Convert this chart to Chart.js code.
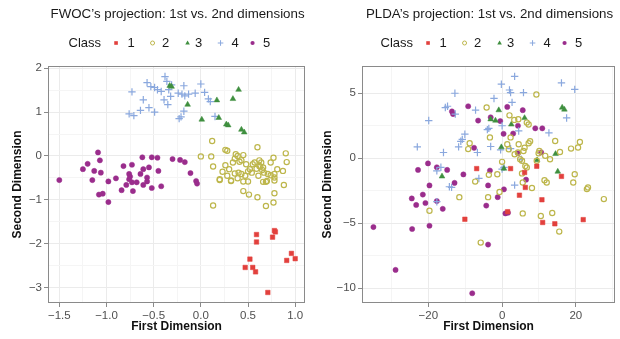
<!DOCTYPE html>
<html><head><meta charset="utf-8">
<script src="https://cdn.jsdelivr.net/npm/chart.js@4/dist/chart.umd.min.js"></script>
<style>
html,body{margin:0;padding:0;background:#fff;}
#wrap{position:relative;width:620px;height:339px;overflow:hidden;}
canvas{position:absolute;top:0;}
</style></head><body>
<div id="wrap">
<canvas id="c1" width="310" height="339" style="left:0"></canvas>
<canvas id="c2" width="310" height="339" style="left:310px"></canvas>
</div>
<script>
const classNames = ['1','2','3','4','5'];
const classColors = ['#E2403D','#BDB64B','#3F8F3F','#8AA8DE','#9A2D8C'];
const classShapes = ['rect','circle','triangle','cross','circle'];
const classFilled = [true,false,true,false,true];

// FWOC projection
const fwocClass1 = [[0.59,-1.79],[0.59,-1.96],[0.78,-1.70],[0.79,-1.73],[0.76,-1.85],[0.52,-2.35],[0.47,-2.54],[0.55,-2.54],[0.58,-2.64],[0.71,-3.11],[0.96,-2.22],[0.91,-2.38],[1.00,-2.34]];
const fwocClass2 = [[0.12,0.34],[0.00,-0.01],[0.11,-0.01],[0.26,0.14],[0.28,0.12],[0.13,-0.24],[0.26,-0.21],[0.20,-0.53],[0.23,-0.36],[0.28,-0.45],[0.32,-0.56],[0.37,0.04],[0.39,0.00],[0.45,0.02],[0.34,-0.15],[0.41,-0.13],[0.36,-0.06],[0.60,0.20],[0.40,-0.38],[0.43,-0.41],[0.39,-0.51],[0.45,-0.58],[0.50,-0.58],[0.48,-0.19],[0.52,-0.30],[0.55,-0.19],[0.57,-0.15],[0.50,-0.35],[0.54,-0.38],[0.59,-0.29],[0.62,-0.23],[0.64,-0.15],[0.63,-0.24],[0.66,-0.26],[0.65,-0.32],[0.67,-0.38],[0.71,-0.41],[0.74,-0.44],[0.78,-0.41],[0.78,-0.49],[0.74,-0.15],[0.77,-0.04],[0.90,0.06],[0.91,-0.14],[0.87,-0.34],[0.78,-0.56],[0.66,-0.59],[0.69,-0.59],[0.88,-0.66],[0.45,-0.80],[0.51,-0.88],[0.60,-0.94],[0.78,-0.85],[0.77,-1.06],[0.69,-1.14],[0.13,-1.13],[0.20,-0.55],[0.32,-0.57],[0.70,-0.57],[0.43,-0.10],[0.47,-0.45],[0.30,-0.30],[0.61,-0.45],[0.62,-0.10],[0.81,-0.30],[0.36,-0.40]];
const fwocClass3 = [[-0.33,1.60],[-0.31,1.58],[-0.14,1.17],[0.01,0.83],[0.17,1.27],[0.19,0.87],[0.27,0.72],[0.29,0.70],[0.34,1.30],[0.40,1.51],[0.43,0.60],[0.46,0.54]];
const fwocClass4 = [[-0.38,1.81],[-0.57,1.67],[-0.53,1.58],[-0.49,1.56],[-0.46,1.51],[-0.42,1.47],[-0.73,1.46],[-0.36,1.70],[-0.34,1.51],[-0.61,1.28],[-0.39,1.28],[-0.35,1.17],[-0.55,1.10],[-0.64,1.04],[-0.49,1.00],[-0.76,0.96],[-0.71,0.92],[-0.31,1.62],[-0.18,1.60],[-0.24,1.43],[-0.20,1.41],[-0.17,1.37],[-0.13,1.41],[-0.06,1.43],[0.00,1.64],[0.04,1.45],[0.08,1.30],[0.10,1.24],[-0.18,1.02],[-0.21,0.89],[-0.23,0.85],[0.15,0.90],[-0.32,1.36]];
const fwocClass5 = [[-1.50,-0.55],[-1.25,-0.30],[-1.20,-0.18],[-1.09,0.08],[-1.07,-0.10],[-1.13,-0.34],[-1.15,-0.55],[-1.06,-0.38],[-0.98,-0.58],[-0.90,-0.51],[-0.82,-0.23],[-0.76,-0.41],[-0.75,-0.47],[-0.76,-0.53],[-0.73,-0.20],[-0.79,-0.66],[-0.62,-0.03],[-0.61,-0.30],[-0.64,-0.41],[-0.57,-0.49],[-0.55,-0.26],[-0.52,-0.03],[-0.46,-0.04],[-0.45,-0.34],[-0.52,-0.73],[-0.30,-0.07],[-1.08,-0.88],[-1.04,-0.86],[-0.98,-1.05],[-0.84,-0.78],[-0.73,-0.60],[-0.72,-0.80],[-0.61,-0.66],[-0.42,-0.69],[-0.22,-0.09],[-0.17,-0.14],[-0.11,-0.39],[-0.05,-0.57],[-0.04,-0.63],[-0.68,-0.60],[-0.57,-0.58]];

// PLDA projection
const pldaClass1 = [[-6.9,-0.8],[-10.1,-4.7],[4.7,-2.85],[6.3,-2.25],[10.8,-3.2],[1.5,-4.12],[11.0,-4.95],[14.3,-5.05],[22.0,-4.73],[2.3,-0.8],[9.4,-0.62],[16.1,-1.4],[6.1,-1.1]];
const pldaClass2 = [[-4.2,3.9],[-8.8,1.15],[-9.2,0.7],[-7.3,-1.8],[-11.6,-3.0],[-19.7,-4.05],[-5.8,-6.5],[-3.8,-3.0],[-0.7,-2.6],[5.6,-1.87],[8.1,-2.3],[11.5,-1.7],[12.1,-1.87],[19.3,-1.87],[23.0,-2.38],[27.6,-3.15],[5.6,-4.25],[10.5,-4.45],[13.6,-4.22],[15.5,-5.65],[9.3,4.9],[2.0,3.3],[3.3,2.95],[4.4,3.0],[6.7,2.74],[7.2,2.6],[-3.3,1.6],[2.3,1.6],[7.6,1.3],[7.2,1.15],[14.4,1.33],[21.1,1.25],[20.6,0.82],[18.7,0.74],[15.7,0.48],[6.1,0.8],[5.8,0.56],[3.4,0.31],[4.3,0.44],[10.1,0.56],[9.9,0.38],[11.7,0.18],[13.0,-0.08],[0.0,-0.28],[-3.6,-1.28],[5.4,-0.2],[6.3,-0.6],[6.7,-0.71],[5.4,-1.17],[19.7,-1.23],[23.3,-2.25],[1.4,1.07],[1.8,0.69],[4.5,1.07],[4.9,-0.08],[9.4,-0.2],[-1.3,-1.23]];
const pldaClass3 = [[-16.3,-1.4],[-0.9,3.7],[-3.1,3.0],[-1.8,2.9],[2.5,2.6],[6.1,3.1],[16.3,3.9],[16.9,3.75],[-0.2,0.85],[14.5,0.33],[9.5,-0.15],[15.1,-1.03],[0.5,-0.8]];
const pldaClass4 = [[-12.8,5.0],[-15.4,3.9],[-14.8,4.0],[-12.7,3.4],[-7.2,3.7],[-19.9,2.9],[-4.0,2.2],[-10.1,1.85],[-10.8,1.45],[-11.2,1.3],[-11.8,0.87],[-23.0,0.87],[-15.9,0.44],[-6.7,0.44],[-16.6,-0.7],[-17.7,-0.97],[-14.3,-2.2],[-13.7,-2.25],[-6.3,-1.56],[-17.7,-3.35],[3.4,6.3],[-0.2,5.7],[2.0,5.25],[2.3,5.05],[5.8,5.05],[-2.2,4.6],[16.1,5.8],[19.7,5.3],[2.7,4.3],[17.5,3.1],[-3.6,2.3],[0.0,2.5],[4.5,2.1],[12.7,1.95],[-3.1,0.9],[-0.4,0.64],[2.3,0.74],[5.2,-0.08],[0.5,-0.71],[3.4,-2.07],[0.0,-0.84]];
const pldaClass5 = [[-9.2,4.0],[-13.6,3.6],[-13.3,3.4],[-6.5,2.9],[-7.6,0.8],[-22.8,-0.9],[-20.1,-0.4],[-17.7,-0.7],[-14.9,-0.9],[-10.5,-1.25],[-12.9,-1.9],[-19.7,-2.1],[-24.5,-3.1],[-23.3,-3.6],[-21.5,-2.8],[-20.8,-3.45],[-17.7,-3.3],[-16.1,-3.9],[-34.9,-5.3],[-24.4,-5.45],[-19.7,-5.2],[-28.9,-8.6],[-8.1,-10.4],[-4.3,-3.65],[-3.8,-2.1],[-3.8,-6.65],[0.5,-2.4],[-1.2,-3.0],[0.9,-4.25],[1.6,-4.2],[6.5,-1.65],[1.4,3.95],[5.6,3.7],[-3.1,3.15],[-0.5,2.86],[4.3,2.5],[9.0,2.3],[10.9,2.3],[0.4,1.88],[3.0,1.9],[10.6,0.45],[4.3,0.38],[-3.3,-0.95]];

// Axes
const fwocXMajor = [-1.5,-1.0,-0.5,0.0,0.5,1.0];
const fwocXMinor = [-1.25,-0.75,-0.25,0.25,0.75];
const fwocYMajor = [-3,-2,-1,0,1,2];
const fwocYMinor = [-2.5,-1.5,-0.5,0.5,1.5];
const pldaXMajor = [-20,0,20];
const pldaXMinor = [-30,-10,10,30];
const pldaYMajor = [-10,-5,0,5];
const pldaYMinor = [-7.5,-2.5,2.5];

const FONT = '"Liberation Sans", Arial, Helvetica, sans-serif';

function fmtMinus(s){ return s.replace('-', '\u2212'); }

function makeScale(min, max, major, minor, decimals, title, isX, fitSize){
  const all = major.concat(minor).sort((a,b)=>a-b);
  const isMajor = v => major.some(m => Math.abs(m - v) < 1e-9);
  return {
    type: 'linear', min, max,
    afterBuildTicks: s => { s.ticks = all.map(v => ({value: v})); },
    afterFit: s => { if (isX) s.height = fitSize; else s.width = fitSize; },
    ticks: {
      autoSkip: false, maxRotation: 0, padding: 2,
      color: '#505050',
      font: {family: FONT, size: 11.5},
      callback: v => isMajor(v) ? fmtMinus(v.toFixed(decimals)) : ''
    },
    grid: {
      drawTicks: true, tickLength: 4,
      color: c => (c.tick && isMajor(c.tick.value)) ? '#EBEBEB' : '#F5F5F5',
      lineWidth: 1,
      tickColor: c => (c.tick && isMajor(c.tick.value)) ? '#8A8A8A' : 'rgba(0,0,0,0)',
      tickWidth: 1
    },
    border: {display: false},
    title: {
      display: true, text: title, color: '#111',
      font: {family: FONT, size: 12, weight: 'bold'},
      padding: isX ? {top: 0, bottom: 5} : {top: 10, bottom: 0}
    }
  };
}

const decor = {
  id: 'decor',
  afterDatasetsDraw(chart) {
    const {ctx, chartArea: a} = chart;
    ctx.save();
    ctx.strokeStyle = '#8A8A8A';
    ctx.lineWidth = 1;
    ctx.strokeRect(Math.round(a.left) + 0.5, Math.round(a.top) + 0.5, Math.round(a.right - a.left) - 1, Math.round(a.bottom - a.top) - 1);
    ctx.restore();
  },
  afterDraw(chart, args, opts) {
    const {ctx, chartArea: a} = chart;
    const cx = (a.left + a.right) / 2;
    ctx.save();
    ctx.fillStyle = '#1A1A1A';
    ctx.textBaseline = 'middle';
    ctx.textAlign = 'center';
    ctx.font = '13.3px ' + FONT;
    ctx.fillText(opts.title, cx + 1, 14);
    // legend
    const ly = 43;
    ctx.textAlign = 'left';
    ctx.font = '13px ' + FONT;
    ctx.fillText('Class', cx - 108, ly);
    const mOff = [-60.5, -24, 11, 44, 76];
    const tOff = [-45.5, -11, 22, 58.5, 90];
    ctx.textAlign = 'center';
    for (let i = 0; i < 5; i++) {
      const mx = cx + mOff[i];
      const col = classColors[i];
      ctx.fillStyle = col; ctx.strokeStyle = col; ctx.lineWidth = 1;
      const shp = classShapes[i];
      if (shp === 'rect') { ctx.fillRect(mx - 1.8, ly - 1.8, 3.6, 3.6); }
      else if (shp === 'circle' && classFilled[i]) { ctx.beginPath(); ctx.arc(mx, ly, 2.1, 0, Math.PI*2); ctx.fill(); }
      else if (shp === 'circle') { ctx.beginPath(); ctx.arc(mx, ly, 2.0, 0, Math.PI*2); ctx.stroke(); }
      else if (shp === 'triangle') { ctx.beginPath(); ctx.moveTo(mx, ly - 2.5); ctx.lineTo(mx + 2.3, ly + 1.6); ctx.lineTo(mx - 2.3, ly + 1.6); ctx.closePath(); ctx.fill(); }
      else if (shp === 'cross') { ctx.beginPath(); ctx.moveTo(mx - 2.8, ly); ctx.lineTo(mx + 2.8, ly); ctx.moveTo(mx, ly - 2.8); ctx.lineTo(mx, ly + 2.8); ctx.stroke(); }
      ctx.fillStyle = '#1A1A1A';
      ctx.fillText(classNames[i], cx + tOff[i], ly);
    }
    ctx.restore();
  }
};

function makeDatasets(arrs) {
  return arrs.map((arr, i) => ({
    label: classNames[i],
    data: arr.map(p => ({x: p[0], y: p[1]})),
    pointStyle: classShapes[i],
    pointRadius: classShapes[i] === 'rect' ? 3.2 : (classShapes[i] === 'cross' ? 3.7 : (classShapes[i] === 'triangle' ? 3.3 : 2.6)),
    pointBackgroundColor: classFilled[i] ? classColors[i] : 'rgba(0,0,0,0)',
    pointBorderColor: classColors[i],
    pointBorderWidth: classFilled[i] ? 0.5 : 1.2,
    pointHoverRadius: 3
  }));
}

function makeChart(id, title, arrs, xs, ys, rightPad) {
  return new Chart(document.getElementById(id), {
    type: 'scatter',
    data: {datasets: makeDatasets(arrs)},
    options: {
      responsive: false, animation: false, devicePixelRatio: 1,
      layout: {padding: {top: 66, right: rightPad, bottom: 0, left: 0}},
      plugins: {legend: {display: false}, tooltip: {enabled: false}, title: {display: false}, decor: {title}},
      scales: {x: xs, y: ys},
      clip: false
    },
    plugins: [decor]
  });
}

makeChart('c1', "FWOC\u2019s projection: 1st vs. 2nd dimensions",
  [fwocClass1, fwocClass2, fwocClass3, fwocClass4, fwocClass5],
  makeScale(-1.62, 1.105, fwocXMajor, fwocXMinor, 1, 'First Dimension', true, 36),
  makeScale(-3.35, 2.05, fwocYMajor, fwocYMinor, 0, 'Second Dimension', false, 48), 2);

makeChart('c2', "PLDA\u2019s projection: 1st vs. 2nd dimensions",
  [pldaClass1, pldaClass2, pldaClass3, pldaClass4, pldaClass5],
  makeScale(-38.0, 30.65, pldaXMajor, pldaXMinor, 0, 'First Dimension', true, 36),
  makeScale(-11.15, 7.1, pldaYMajor, pldaYMinor, 0, 'Second Dimension', false, 52), 3);
</script>
</body></html>
